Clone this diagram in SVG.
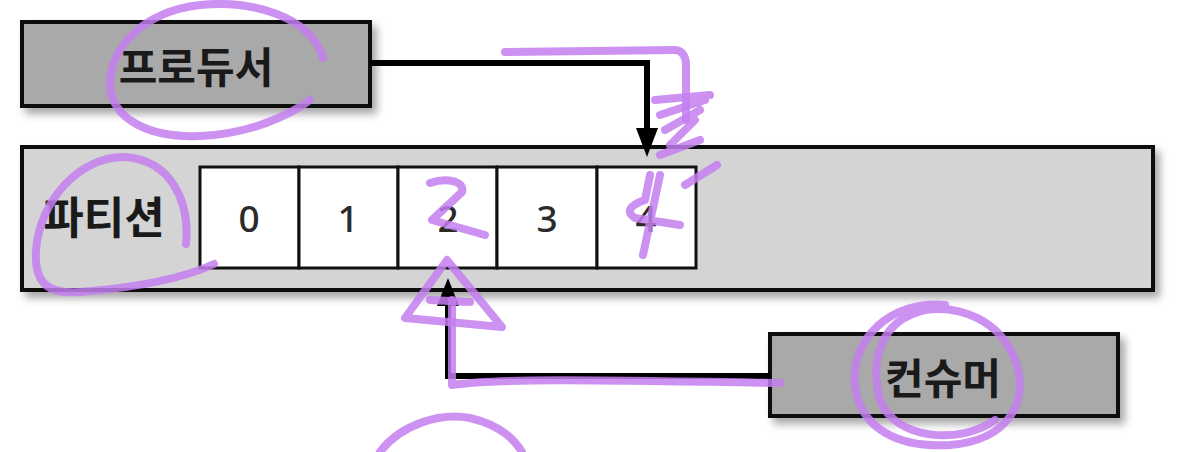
<svg xmlns="http://www.w3.org/2000/svg" width="1186" height="452" viewBox="0 0 1186 452">
<style>
.box{stroke:#111;stroke-width:4}
.dark{fill:#a9a9a9}
.light{fill:#d4d4d4}
.cell{fill:#fff;stroke:#111;stroke-width:3}
.lbl{font-family:"Noto Sans CJK KR","Noto Sans",sans-serif;font-weight:700;font-size:42px;fill:#1a1a1a;text-anchor:middle;dominant-baseline:central}
.num{font-family:"Noto Sans","Liberation Sans",sans-serif;font-weight:500;font-size:37px;fill:#2a2a2a;text-anchor:middle;dominant-baseline:central}
.conn{fill:none;stroke:#000;stroke-width:6}
.head{fill:#000}
.pen{fill:none;stroke:#c47ef0;stroke-width:8;stroke-linecap:round;stroke-linejoin:round;opacity:0.85}
</style>
<defs>
<filter id="sh" x="-10%" y="-20%" width="130%" height="150%">
<feGaussianBlur in="SourceAlpha" stdDeviation="4"/>
<feOffset dx="5" dy="6"/>
<feComponentTransfer><feFuncA type="linear" slope="0.35"/></feComponentTransfer>
<feMerge><feMergeNode/><feMergeNode in="SourceGraphic"/></feMerge>
</filter>
</defs>
<rect width="1186" height="452" fill="#fff"/>
<g id="producer">
<rect class="box dark" x="22" y="22" width="348" height="84" filter="url(#sh)"/>
<text class="lbl" x="196" y="64">프로듀서</text>
</g>
<g id="partition">
<rect class="box light" x="22" y="147" width="1131" height="143" filter="url(#sh)"/>
<text class="lbl" x="104" y="215" style="font-size:44px">파티션</text>
<rect class="cell" x="200" y="167" width="99" height="101"/>
<rect class="cell" x="299" y="167" width="99" height="101"/>
<rect class="cell" x="398" y="167" width="99" height="101"/>
<rect class="cell" x="497" y="167" width="100" height="101"/>
<rect class="cell" x="597" y="167" width="99" height="101"/>
<text class="num" x="249" y="217">0</text>
<text class="num" x="348" y="217">1</text>
<text class="num" x="448" y="217">2</text>
<text class="num" x="547" y="217">3</text>
<text class="num" x="646" y="217">4</text>
</g>
<g id="consumer">
<rect class="box dark" x="770" y="334" width="348" height="82" filter="url(#sh)"/>
<text class="lbl" x="943" y="375">컨슈머</text>
</g>
<g id="connectors">
<path class="conn" d="M370,63 H647 V132"/>
<polygon class="head" points="636,128 658,128 647,157"/>
<path class="conn" d="M770,376 H448 V302"/>
<polygon class="head" points="437,306 459,306 448,278"/>
</g>
<g id="annotations">
<path class="pen" d="M323,58 C310,15 250,0 200,5 C140,12 110,50 110,85 C112,120 150,138 200,136 C250,134 290,115 310,100"/>
<path class="pen" d="M186,244 C190,200 170,160 125,157 C80,156 40,200 36,250 C34,280 45,295 80,292 C130,288 180,280 214,264"/>
<path class="pen" d="M505,52 L675,50 C683,50 686,58 686,65 L686,120"/>
<path class="pen" d="M655,100 L710,95 M660,115 L705,100 M665,130 L700,110 M670,145 L695,120 M660,155 L700,140"/>
<path class="pen" d="M650,175 L645,200 C630,205 625,212 635,218 L680,225 M685,185 L717,165 M660,175 L643,255"/>
<path class="pen" d="M430,183 C445,178 465,180 462,192 L432,220 L485,235"/>
<path class="pen" d="M447,260 L405,318 L502,327 L447,260 M430,300 L470,302"/>
<path class="pen" d="M452,300 L452,385 C500,378 600,380 780,383"/>
<path class="pen" d="M945,305 C890,300 850,340 855,385 C860,430 900,448 950,445 C1010,440 1030,400 1015,360 C1000,320 960,305 925,310 C880,320 870,360 880,400 C895,440 960,445 995,420"/>
<path class="pen" d="M380,452 C400,425 440,412 470,418 C500,425 515,440 522,452"/>
</g>
</svg>
